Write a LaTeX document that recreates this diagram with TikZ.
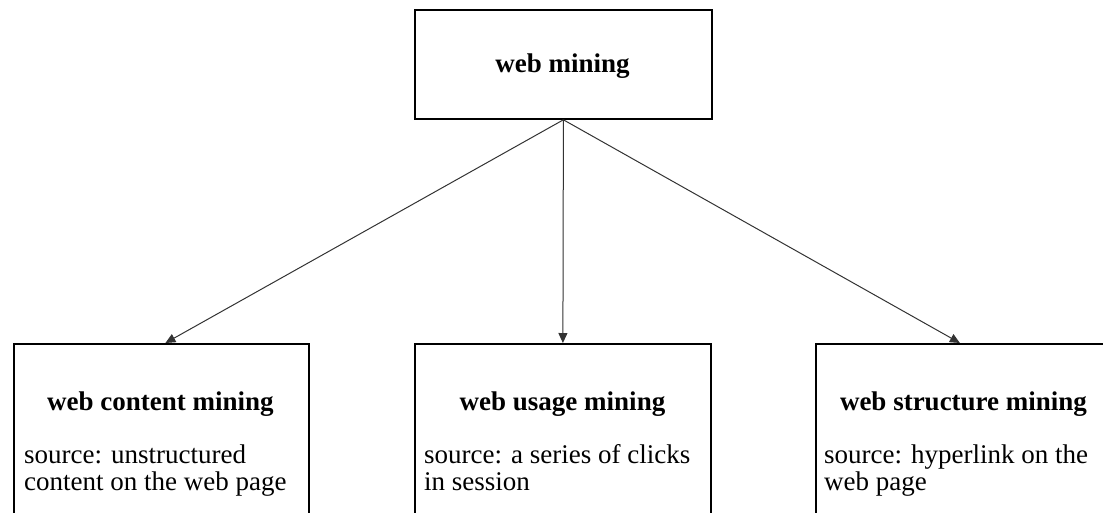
\documentclass[tikz,border=0pt]{standalone}
\usepackage{fontspec}
\setmainfont{Liberation Serif}
\usetikzlibrary{arrows.meta}
\tikzset{
  box/.style={draw=black, line width=1.8pt, rectangle, inner sep=0pt, anchor=north west},
  title/.style={inner sep=0pt, anchor=base, font=\fontsize{27}{32}\selectfont\bfseries},
  body/.style={inner sep=0pt, anchor=base west, font=\fontsize{27}{32}\selectfont},
  conn/.style={draw=black!80, line width=1pt, -{Triangle[length=10pt,width=9pt]}}
}
\begin{document}
\begin{tikzpicture}[x=1pt,y=-1pt]
\useasboundingbox (0,0) rectangle (1103,512);
\clip (0,0) rectangle (1103,512);
% top
\node[box, minimum width=297pt, minimum height=109pt] (top) at (414,9) {};
\node[title] (toptxt) at (562.5,72) {web mining};
% left
\node[box, minimum width=295pt, minimum height=200pt] (content) at (13,343) {};
\node[title] (contentT) at (160.5,410) {web content mining};
\node[body] (contentS1) at (24,463) {source: unstructured};
\node[body] (contentS2) at (24,490) {content on the web page};
% middle
\node[box, minimum width=296pt, minimum height=200pt] (usage) at (414,343) {};
\node[title] (usageT) at (562.5,410) {web usage mining};
\node[body] (usageS1) at (424,463) {source: a series of clicks};
\node[body] (usageS2) at (424,490) {in session};
% right
\node[box, minimum width=296pt, minimum height=200pt] (structure) at (815,343) {};
\node[title] (structureT) at (963.5,410) {web structure mining};
\node[body] (structureS1) at (824,463) {source: hyperlink on the};
\node[body] (structureS2) at (824,490) {web page};
% connectors
\draw[conn] (top.south) -- ([xshift=4pt]content.north);
\draw[conn] (top.south) -- (usage.north);
\draw[conn] (top.south) -- ([xshift=-4pt]structure.north);
\end{tikzpicture}
\end{document}
